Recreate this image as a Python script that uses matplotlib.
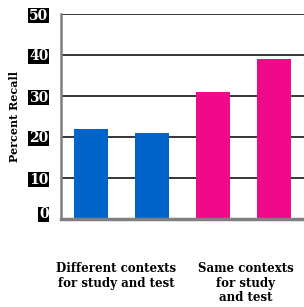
import matplotlib.pyplot as plt
from matplotlib.transforms import ScaledTranslation

# data
conditions = ["Different contexts\nfor study and test", "Same contexts\nfor study\nand test"]
recall = [22, 21, 31, 39]
bar_colors = ["#0064c8", "#0064c8", "#f00a8a", "#f00a8a"]
yticks = [0, 10, 20, 30, 40, 50]

fig = plt.figure(figsize=(3.04, 3.07), dpi=100)
ax = fig.add_axes([61 / 304, 1 - 219 / 307, 1 - 61 / 304, (219 - 14) / 307])

ax.set_axisbelow(True)
ax.bar(range(len(recall)), recall, width=0.56, color=bar_colors, zorder=2)
ax.set_xlim(-0.5, 3.5)
ax.set_ylim(0, 50)

ax.set_yticks(yticks)
ax.yaxis.grid(True, color="black", linewidth=1.1)
ax.set_yticklabels([str(v) for v in yticks], fontfamily="DejaVu Serif",
                   fontweight="bold", fontsize=10, color="white")
for lbl in ax.get_yticklabels():
    lbl.set_bbox(dict(facecolor="black", edgecolor="none", pad=0.6))
ax.tick_params(axis="y", length=0, pad=9)
ax.set_xticks([])
# the zero label sits a little above the baseline in the original
zero_lbl = ax.get_yticklabels()[0]
zero_lbl.set_transform(zero_lbl.get_transform() + ScaledTranslation(0, 0.06, fig.dpi_scale_trans))

for side in ["top", "right"]:
    ax.spines[side].set_visible(False)
ax.spines["left"].set_color("#808080")
ax.spines["left"].set_linewidth(1.8)
ax.spines["bottom"].set_color("#808080")
ax.spines["bottom"].set_linewidth(2.5)

fig.text(15 / 304, 1 - 117 / 307, "Percent Recall", rotation=90, ha="center", va="center",
         fontfamily="DejaVu Serif", fontweight="bold", fontsize=8)

label_x = [116, 246]
for x, txt in zip(label_x, conditions):
    fig.text(x / 304, 1 - 262 / 307, txt, ha="center", va="top", linespacing=1.15,
             fontfamily="DejaVu Serif", fontweight="bold", fontsize=8.5)

fig.savefig("out.png", dpi=100)
